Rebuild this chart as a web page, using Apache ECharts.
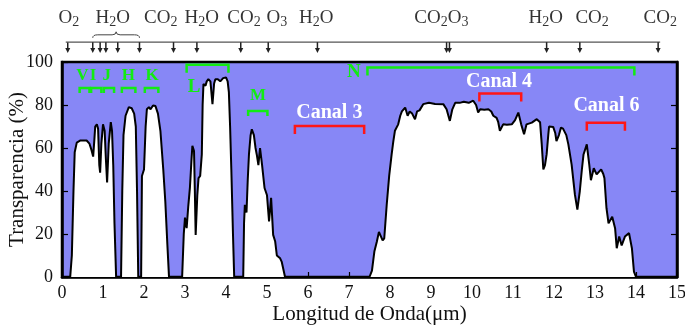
<!DOCTYPE html>
<html>
<head>
<meta charset="utf-8">
<script src="https://cdn.jsdelivr.net/npm/echarts@6/dist/echarts.min.js"></script>
<style>
html,body{margin:0;padding:0;background:#fff}
#chart{width:685px;height:330px}
</style>
</head>
<body>
<div id="chart"></div>
<script>
// Atmospheric transmission spectrum (wavelength in µm, transmission in %)
const wavelength = [
  0, 0.2, 0.24, 0.28, 0.31, 0.36, 0.45, 0.6, 0.67, 0.72, 0.76, 0.79, 0.81, 0.85, 0.88, 0.91, 0.93, 0.96,
  1.0, 1.04, 1.07, 1.1, 1.14, 1.19, 1.22, 1.25, 1.28, 1.32, 1.44, 1.47, 1.5, 1.55, 1.63, 1.7, 1.76, 1.8,
  1.83, 1.86, 1.93, 1.95, 2.0, 2.04, 2.07, 2.12, 2.16, 2.22, 2.28, 2.34, 2.4, 2.47, 2.52, 2.57, 2.61,
  2.93, 2.97, 3.0, 3.04, 3.08, 3.12, 3.16, 3.18, 3.22, 3.24, 3.26, 3.3, 3.33, 3.37, 3.41, 3.43, 3.45,
  3.5, 3.53, 3.57, 3.62, 3.67, 3.71, 3.74, 3.8, 3.86, 3.93, 4.0, 4.04, 4.07, 4.1, 4.13, 4.17, 4.2,
  4.42, 4.44, 4.46, 4.5, 4.53, 4.56, 4.6, 4.63, 4.68, 4.72, 4.75, 4.79, 4.83, 4.85, 4.88, 4.94, 5.0,
  5.05, 5.1, 5.15, 5.2, 5.24, 5.28, 5.32, 5.36, 5.44, 7.5, 7.56, 7.62, 7.68, 7.73, 7.77, 7.82, 7.86,
  7.92, 7.98, 8.04, 8.08, 8.12, 8.2, 8.25, 8.29, 8.37, 8.43, 8.48, 8.54, 8.61, 8.66, 8.72, 8.81, 8.95,
  9.1, 9.3, 9.38, 9.46, 9.52, 9.59, 9.7, 9.8, 9.92, 10.03, 10.1, 10.15, 10.2, 10.3, 10.4, 10.47, 10.52,
  10.6, 10.64, 10.68, 10.76, 10.85, 10.97, 11.05, 11.13, 11.2, 11.27, 11.33, 11.46, 11.58, 11.66, 11.7,
  11.74, 11.78, 11.82, 11.86, 11.88, 11.98, 12.03, 12.06, 12.12, 12.17, 12.22, 12.3, 12.35, 12.43, 12.51,
  12.57, 12.63, 12.68, 12.72, 12.8, 12.86, 12.9, 12.92, 12.97, 13.04, 13.1, 13.15, 13.2, 13.23, 13.28,
  13.33, 13.37, 13.42, 13.49, 13.53, 13.59, 13.65, 13.73, 13.83, 13.9, 13.95, 14.0, 15
];
const transmission = [
  0, 0, 10, 40, 58, 62.5, 63.5, 63.5, 62, 59, 56, 64, 70, 71, 69, 52, 48.5, 62,
  71, 68, 55, 44, 62, 72, 68, 52, 25, 0, 0, 40, 66, 75, 79, 78.5, 76, 70,
  40, 0, 0, 47, 50, 70, 78, 79, 78, 79.8, 79.5, 76, 68, 50, 35, 15, 0,
  0, 20, 27.6, 22.7, 33, 41.6, 55, 61, 58.6, 40, 19.6, 38, 46, 47, 57, 80, 89.7,
  89, 91, 92, 91, 80.4, 90, 92, 92, 91, 92.5, 92.8, 91, 86, 70, 50, 20, 0,
  0, 25, 33.6, 30, 45, 57, 66, 68.7, 66, 60, 57, 52, 60, 60, 52, 41.4, 38,
  25.8, 36.8, 19.6, 16.5, 10, 10.3, 8.7, 7, 0, 0, 3, 12, 16.5, 21, 21, 17, 18,
  33.6, 47, 57, 63, 68, 71, 75, 77, 78.8, 75, 77, 76, 73.4, 77, 77.5, 80.4, 81,
  80.5, 80.4, 78, 72.6, 78, 81, 81, 81.5, 81, 82, 80, 76.5, 78, 77.8, 78, 77, 75,
  74, 72, 68, 71, 70.8, 71, 73, 76.5, 71, 66.4, 71, 71.8, 73.4, 72, 62,
  50, 52, 57, 66, 70, 69.8, 67, 63.2, 66, 69.5, 69, 66, 61.7, 52.3, 38.3,
  31.3, 40, 50, 57, 61.7, 52.3, 45, 44.5, 50.6, 47.7, 49, 50, 48, 46, 32,
  25, 24.3, 28, 22.7, 13.4, 18.8, 14.7, 18.8, 20.4, 13.4, 2.5, 0, 0
];

// Absorption features marked along the top strip
const absorberPositions = [0.14, 0.75, 0.93, 1.07, 1.36, 1.89, 2.72, 3.29, 4.36, 5.03, 6.23, 9.38, 9.45, 11.82, 12.63, 14.54];
const waterGroup = [0.75, 1.89];
const moleculeNames = ['O2', 'H2O', 'CO2', 'H2O', 'CO2', 'O3', 'H2O', 'CO2', 'O3', 'H2O', 'CO2', 'CO2'];
const moleculePositions = [0.17, 1.24, 2.41, 3.41, 4.44, 5.24, 6.2, 9.0, 9.66, 11.8, 12.93, 14.59];

// Photometric windows
const bandNames = ['V', 'I', 'J', 'H', 'K', 'L', 'M', 'N'];
const bandStart = [0.43, 0.71, 1.02, 1.46, 2.02, 3.04, 4.54, 7.45];
const bandEnd = [0.67, 0.96, 1.27, 1.79, 2.35, 4.06, 5.01, 13.96];
const bandLevel = [87.9, 87.9, 87.9, 87.9, 87.9, 98.7, 77.2, 97.5];
const bandLabelX = [0.5, 0.76, 1.09, 1.62, 2.2, 3.22, 4.78, 7.12];
const bandLabelY = [93.5, 93.5, 93.5, 93.5, 93.5, 88.3, 84.2, 95.2];

// Sensor channels
const channelNames = ['Canal 3', 'Canal 4', 'Canal 6'];
const channelStart = [5.68, 10.18, 12.8];
const channelEnd = [7.37, 11.2, 13.73];
const channelLevel = [70.2, 85.4, 71.8];
const channelLabelX = [6.52, 10.66, 13.28];
const channelLabelY = [76.5, 90.7, 79.6];

const SERIF = '"Liberation Serif", "DejaVu Serif", serif';
const GREEN = '#12ec12';
const RED = '#ff1616';

const curve = wavelength.map((w, i) => [w, transmission[i]]);

function formulaRich(name) {
  // split "H2O" into normal letters and subscript digits
  return name.replace(/([A-Za-z]+)|(\d+)/g, (m, letters, digits) =>
    letters ? '{n|' + letters + '}' : '{s|' + digits + '}');
}

// bracket (start, end, level) with its caption at (labelX, labelY)
function bracketItem(names, color, textColor, fontFor) {
  return function (params, api) {
    const i = params.dataIndex;
    const p0 = api.coord([api.value(0), api.value(2)]);
    const p1 = api.coord([api.value(1), api.value(2)]);
    const t = api.coord([api.value(3), api.value(4)]);
    const narrow = (api.value(1) - api.value(0)) < 0.5;
    const drop = narrow ? 5 : 8;
    return {
      type: 'group',
      children: [
        {
          type: 'polyline',
          shape: { points: [[p0[0], p0[1] + drop], [p0[0], p0[1]], [p1[0], p1[1]], [p1[0], p1[1] + drop]] },
          style: { stroke: color, lineWidth: 2.5, fill: null }
        },
        {
          type: 'text',
          x: t[0], y: t[1],
          style: { text: names[i], fill: textColor, font: fontFor(narrow), align: 'center', verticalAlign: 'middle' }
        }
      ]
    };
  };
}

const plainText = { textBorderWidth: 0, textBorderColor: 'transparent', textShadowBlur: 0 };

const chart = echarts.init(document.getElementById('chart'), null, { renderer: 'canvas' });

chart.setOption({
  animation: false,
  backgroundColor: '#ffffff',
  grid: [
    { left: 62, right: 8, top: 62, bottom: 53, outerBoundsMode: 'none', containLabel: false, show: true, backgroundColor: '#8787f6', borderColor: '#000', borderWidth: 2.5, z: 0 },
    { left: 62, right: 8, top: 0, height: 62, outerBoundsMode: 'none', containLabel: false, show: false }
  ],
  xAxis: [
    {
      type: 'value', gridIndex: 0, min: 0, max: 15, interval: 1,
      name: 'Longitud de Onda(μm)', nameLocation: 'middle', nameGap: 27, nameMoveOverlap: false,
      nameTextStyle: { fontFamily: SERIF, fontSize: 21, color: '#111' },
      axisLine: { show: true, onZero: false, lineStyle: { color: '#000', width: 2.5 } },
      axisTick: { show: true, inside: true, length: 5, lineStyle: { color: '#000', width: 1.2 } },
      axisLabel: { fontFamily: SERIF, fontSize: 18, color: '#111', margin: 7 },
      splitLine: { show: false }
    },
    { type: 'value', gridIndex: 1, min: 0, max: 15, show: false }
  ],
  yAxis: [
    {
      type: 'value', gridIndex: 0, min: 0, max: 100, interval: 20,
      name: 'Transparencia (%)', nameLocation: 'middle', nameGap: 34, nameMoveOverlap: false,
      nameTextStyle: { fontFamily: SERIF, fontSize: 21, color: '#111' },
      axisLine: { show: true, lineStyle: { color: '#000', width: 2.5 } },
      axisTick: { show: true, inside: true, length: 6, lineStyle: { color: '#000', width: 1.2 } },
      axisLabel: { fontFamily: SERIF, fontSize: 18, color: '#111', margin: 9 },
      splitLine: { show: false }
    },
    {
      type: 'value', gridIndex: 0, min: 0, max: 100, interval: 20, position: 'right',
      axisLine: { show: true, lineStyle: { color: '#000', width: 2.5 } },
      axisTick: { show: true, inside: true, length: 6, lineStyle: { color: '#000', width: 1.2 } },
      axisLabel: { show: false }, splitLine: { show: false }
    },
    { type: 'value', gridIndex: 1, min: 0, max: 1, show: false }
  ],
  series: [
    {
      name: 'Transparencia', type: 'line', xAxisIndex: 0, yAxisIndex: 0,
      data: curve, showSymbol: false, symbol: 'none', smooth: false,
      lineStyle: { color: '#000', width: 2 },
      areaStyle: { color: '#ffffff', opacity: 1 },
      z: 2
    },
    {
      // green photometric windows
      type: 'custom', xAxisIndex: 0, yAxisIndex: 0, z: 4,
      data: bandNames.map((n, i) => [bandStart[i], bandEnd[i], bandLevel[i], bandLabelX[i], bandLabelY[i]]),
      renderItem: bracketItem(bandNames, GREEN, GREEN, narrow => 'bold ' + (narrow ? 17 : 19) + 'px ' + SERIF)
    },
    {
      // red sensor channels
      type: 'custom', xAxisIndex: 0, yAxisIndex: 0, z: 4,
      data: channelNames.map((n, i) => [channelStart[i], channelEnd[i], channelLevel[i], channelLabelX[i], channelLabelY[i]]),
      renderItem: bracketItem(channelNames, RED, '#ffffff', () => 'bold 20px ' + SERIF)
    },
    {
      // absorption arrows with their common baseline
      type: 'custom', xAxisIndex: 1, yAxisIndex: 2, z: 3,
      data: absorberPositions.map(x => [x]),
      renderItem: function (params, api) {
        const top = api.coord([api.value(0), 0.32]);
        const tip = api.coord([api.value(0), 0.145]);
        const children = [
          { type: 'line', shape: { x1: top[0], y1: top[1], x2: tip[0], y2: tip[1] - 3 }, style: { stroke: '#222', lineWidth: 1.5 } },
          { type: 'polygon', shape: { points: [[tip[0] - 2.5, tip[1] - 5], [tip[0] + 2.5, tip[1] - 5], [tip[0], tip[1]]] }, style: { fill: '#222' } }
        ];
        if (params.dataIndex === 0) {
          const a = api.coord([absorberPositions[0], 0.32]);
          const b = api.coord([absorberPositions[absorberPositions.length - 1], 0.32]);
          children.push({ type: 'line', shape: { x1: a[0] - 2, y1: a[1], x2: b[0] + 2, y2: b[1] }, style: { stroke: '#555', lineWidth: 1.2 } });
          // brace over the water-vapour group
          const l = api.coord([waterGroup[0], 0.39]);
          const r = api.coord([waterGroup[1], 0.39]);
          const mid = (l[0] + r[0]) / 2;
          const yb = l[1];
          const ym = yb - 3;
          const yt = yb - 6;
          children.push(
            { type: 'bezierCurve', shape: { x1: l[0], y1: yb, cpx1: l[0], cpy1: ym, x2: l[0] + 5, y2: ym }, style: { stroke: '#444', lineWidth: 1, fill: null } },
            { type: 'line', shape: { x1: l[0] + 5, y1: ym, x2: mid - 4, y2: ym }, style: { stroke: '#444', lineWidth: 1 } },
            { type: 'bezierCurve', shape: { x1: mid - 4, y1: ym, cpx1: mid, cpy1: ym, x2: mid, y2: yt }, style: { stroke: '#444', lineWidth: 1, fill: null } },
            { type: 'bezierCurve', shape: { x1: mid, y1: yt, cpx1: mid, cpy1: ym, x2: mid + 4, y2: ym }, style: { stroke: '#444', lineWidth: 1, fill: null } },
            { type: 'line', shape: { x1: mid + 4, y1: ym, x2: r[0] - 5, y2: ym }, style: { stroke: '#444', lineWidth: 1 } },
            { type: 'bezierCurve', shape: { x1: r[0] - 5, y1: ym, cpx1: r[0], cpy1: ym, x2: r[0], y2: yb }, style: { stroke: '#444', lineWidth: 1, fill: null } }
          );
        }
        return { type: 'group', children: children };
      }
    },
    {
      type: 'scatter', xAxisIndex: 1, yAxisIndex: 2, symbolSize: 0, z: 5,
      data: moleculeNames.map((n, i) => ({ value: [moleculePositions[i], 0.71], name: n })),
      label: Object.assign({
        show: true, position: 'inside', formatter: p => formulaRich(p.name),
        rich: {
          n: Object.assign({ fontFamily: SERIF, fontSize: 19, color: '#000', lineHeight: 22 }, plainText),
          s: Object.assign({ fontFamily: SERIF, fontSize: 14, color: '#000', lineHeight: 22, padding: [9, 0, 0, 0] }, plainText)
        }
      }, plainText)
    }
  ]
});
</script>
</body>
</html>
